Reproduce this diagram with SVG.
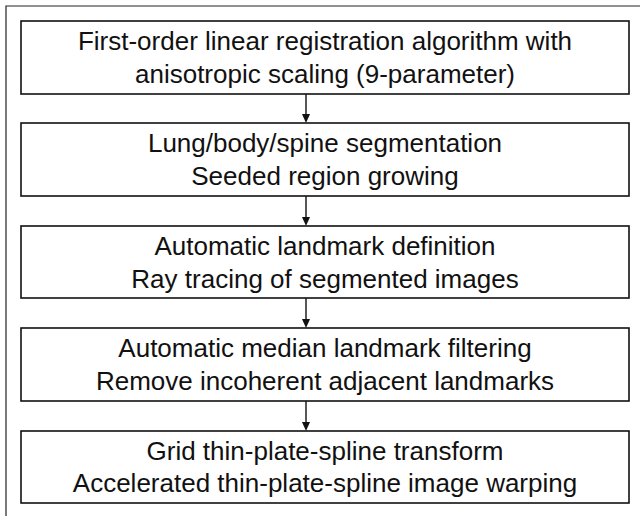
<svg xmlns="http://www.w3.org/2000/svg" width="640" height="516" viewBox="0 0 640 516">
<style>
.frame{fill:none;stroke:#222;stroke-width:1.2}
.box{fill:#fff;stroke:#111;stroke-width:1.6}
.t{font-family:"Liberation Sans",Arial,sans-serif;font-size:26px;fill:#111;text-anchor:middle}
.c{stroke:#111;stroke-width:1.4;fill:none}
.ah{fill:#111}
</style>
<rect width="640" height="516" fill="#fff"/>
<path class="frame" d="M6,516 L6,6 L640,6"/>
<g id="connectors">
<line class="c" x1="306" y1="94" x2="306" y2="116"/>
<path class="ah" d="M302,114 L310,114 L306,123 Z"/>
<line class="c" x1="306" y1="196" x2="306" y2="219"/>
<path class="ah" d="M302,217 L310,217 L306,226 Z"/>
<line class="c" x1="306" y1="298" x2="306" y2="321"/>
<path class="ah" d="M302,319 L310,319 L306,328 Z"/>
<line class="c" x1="306" y1="401" x2="306" y2="424"/>
<path class="ah" d="M302,422 L310,422 L306,431 Z"/>
</g>
<g id="n1">
<rect class="box" x="21" y="21" width="608" height="73"/>
<text class="t" x="325" y="50">First-order linear registration algorithm with</text>
<text class="t" x="325" y="83">anisotropic scaling (9-parameter)</text>
</g>
<g id="n2">
<rect class="box" x="21" y="123" width="608" height="73"/>
<text class="t" x="325" y="152">Lung/body/spine segmentation</text>
<text class="t" x="325" y="185">Seeded region growing</text>
</g>
<g id="n3">
<rect class="box" x="21" y="226" width="608" height="72"/>
<text class="t" x="325" y="255">Automatic landmark definition</text>
<text class="t" x="325" y="288">Ray tracing of segmented images</text>
</g>
<g id="n4">
<rect class="box" x="21" y="328" width="608" height="73"/>
<text class="t" x="325" y="357">Automatic median landmark filtering</text>
<text class="t" x="325" y="390">Remove incoherent adjacent landmarks</text>
</g>
<g id="n5">
<rect class="box" x="21" y="431" width="608" height="72"/>
<text class="t" x="325" y="460">Grid thin-plate-spline transform</text>
<text class="t" x="325" y="492">Accelerated thin-plate-spline image warping</text>
</g>
</svg>
